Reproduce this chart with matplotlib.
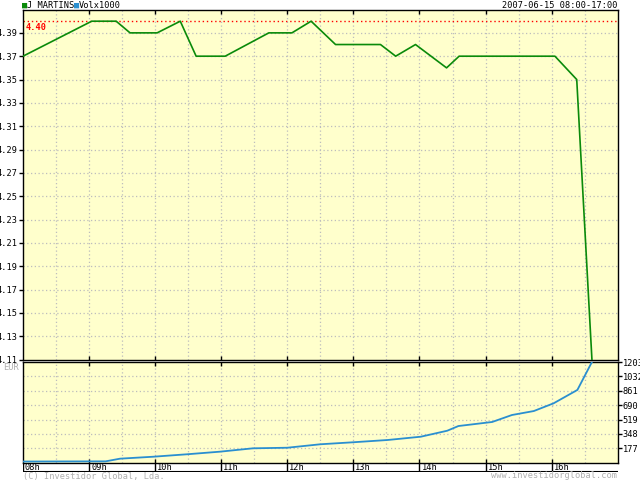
import matplotlib
matplotlib.use("Agg")
import matplotlib.pyplot as plt

# price (EUR) by hour of day
price_hours = [8.00, 9.04, 9.41, 9.62, 10.03, 10.38, 10.62, 11.06, 11.72, 12.07,
               12.36, 12.73, 13.41, 13.64, 13.94, 14.41, 14.60, 16.05, 16.38, 16.61]
price = [4.37, 4.40, 4.40, 4.39, 4.39, 4.40, 4.37, 4.37, 4.39, 4.39,
         4.40, 4.38, 4.38, 4.37, 4.38, 4.36, 4.37, 4.37, 4.35, 4.11]

# cumulative volume x1000
vol_hours = [8.00, 9.25, 9.47, 9.97, 10.48, 10.98, 11.48, 12.00, 12.50, 13.00,
             13.52, 14.02, 14.42, 14.59, 15.10, 15.40, 15.73, 16.03, 16.39, 16.61]
volume = [20, 22, 54, 77, 106, 137, 177, 184, 225, 249,
          276, 315, 386, 442, 490, 573, 620, 712, 871, 1203]

price_ticks = [4.11, 4.13, 4.15, 4.17, 4.19, 4.21, 4.23, 4.25, 4.27, 4.29,
               4.31, 4.33, 4.35, 4.37, 4.39]
vol_ticks = [177, 348, 519, 690, 861, 1032, 1203]
hour_labels = ["08h", "09h", "10h", "11h", "12h", "13h", "14h", "15h", "16h"]
ref_price = 4.40

W, H = 640.0, 480.0
BG = "#ffffcc"
GRID = "#bdbdbd"
FONT = "DejaVu Sans Mono"
FS = 6.2

plt.rcParams['font.family'] = FONT


def box(x0, y0, x1, y1):
    # pixel box (top-left origin) -> figure fraction rect
    return [x0 / W, 1 - y1 / H, (x1 - x0) / W, (y1 - y0) / H]


fig = plt.figure(figsize=(6.4, 4.8), dpi=100, facecolor="white")

half_hours = [8 + 0.5 * i for i in range(19)]

# ---- main price panel
ax = fig.add_axes(box(23, 10, 617.7, 359.5))
ax.set_facecolor(BG)
for h in half_hours[1:-1]:
    ax.axvline(h, color=GRID, lw=0.9, ls=(0, (1, 2)), zorder=1)
for t in price_ticks[1:]:
    ax.axhline(t, color=GRID, lw=0.9, ls=(0, (1, 2)), zorder=1)
ax.axhline(ref_price, color="#ff0000", lw=1.0, ls=(0, (1, 2)), zorder=2)
ax.text(8.04, ref_price - 0.0012, "4.40", color="#ff0000", fontsize=FS,
        fontweight="bold", va="top", ha="left", zorder=3)
ax.plot(price_hours, price, color="#0a8a0a", lw=1.2, zorder=4)
ax.set_xlim(8, 17)
ax.set_ylim(4.11, 4.4096)
ax.set_yticks(price_ticks)
ax.set_yticklabels(["%.2f" % t for t in price_ticks])
ax.set_xticks(range(9, 17))
ax.tick_params(axis="x", direction="in", top=True, bottom=True, length=3,
               labelbottom=False, width=1)
ax.tick_params(axis="y", direction="out", length=3, pad=1, labelsize=FS,
               width=1)
for s in ax.spines.values():
    s.set_linewidth(1.0)

# ---- volume panel
ax2 = fig.add_axes(box(23, 362, 617.7, 462.7))
ax2.set_facecolor(BG)
for h in half_hours[1:-1]:
    ax2.axvline(h, color=GRID, lw=0.9, ls=(0, (1, 2)), zorder=1)
for t in vol_ticks[:-1]:
    ax2.axhline(t, color=GRID, lw=0.9, ls=(0, (1, 2)), zorder=1)
ax2.plot(vol_hours, volume, color="#2a8fd0", lw=1.3, zorder=4)
ax2.set_xlim(8, 17)
ax2.set_ylim(6, 1203)
ax2.set_xticks(range(9, 17))
ax2.tick_params(axis="x", direction="in", top=True, bottom=True, length=3,
                labelbottom=False, width=1)
ax2.yaxis.tick_right()
ax2.set_yticks(vol_ticks)
ax2.tick_params(axis="y", direction="out", length=3, pad=0.5, labelsize=FS,
                width=1)
for s in ax2.spines.values():
    s.set_linewidth(1.0)

# ---- hour strip
ax3 = fig.add_axes(box(23, 462.7, 617.7, 471.7))
ax3.set_xlim(8, 17)
ax3.set_ylim(0, 1)
ax3.axis("off")
ax3.axhline(0, color="black", lw=1.5)
for i, lab in enumerate(hour_labels):
    ax3.axvline(8 + i, color="black", lw=1.0)
    ax3.text(8 + i + 0.03, 0.45, lab, fontsize=FS, va="center", ha="left")

# ---- header / footer texts
fig.text(22.5 / W, 1 - 5 / H, "\u25a0", color="#0a8a0a", fontsize=FS,
         va="center", ha="left")
fig.text(27 / W, 1 - 5 / H, "J MARTINS", color="black", fontsize=FS,
         va="center", ha="left")
fig.text(74.5 / W, 1 - 5 / H, "\u25a0", color="#2a8fd0", fontsize=FS,
         va="center", ha="left")
fig.text(79 / W, 1 - 5 / H, "Volx1000", color="black", fontsize=FS,
         va="center", ha="left")
fig.text(617 / W, 1 - 5 / H, "2007-06-15 08:00-17:00", color="black",
         fontsize=FS, va="center", ha="right")
fig.text(19 / W, 1 - 368 / H, "EUR", color="#b0b0b0", fontsize=FS,
         va="center", ha="right")
fig.text(23 / W, 1 - 476 / H, "(C) Investidor Global, Lda.", color="#b0b0b0",
         fontsize=FS, va="center", ha="left")
fig.text(617 / W, 1 - 476 / H, "www.investidorglobal.com", color="#b0b0b0",
         fontsize=FS, va="center", ha="right")

plt.savefig("out.png", dpi=100, facecolor="white")
